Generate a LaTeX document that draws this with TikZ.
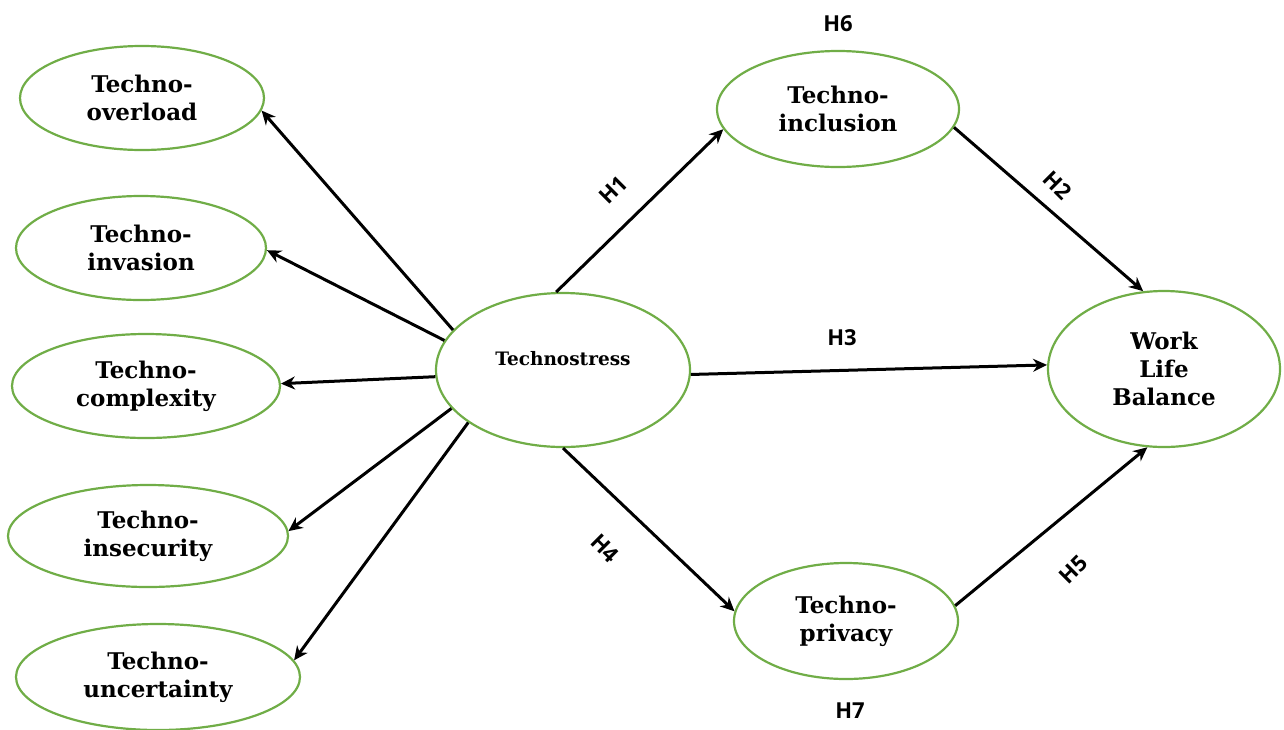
\documentclass[tikz,border=0pt]{standalone}
\usepackage{fontspec}
\setmainfont{DejaVu Serif}
\newfontfamily\hlab{Open Sans}
\usetikzlibrary{shapes.geometric,arrows.meta}
\definecolor{egreen}{RGB}{112,173,71}
\tikzset{
  ell/.style={ellipse, draw=egreen, line width=2.2pt, inner sep=0pt, align=center,
    font=\fontsize{23}{28}\selectfont\bfseries},
  conn/.style={line width=3pt, -{Stealth[length=14pt,width=13pt]}},
  hl/.style={font=\hlab\fontsize{22}{24}\selectfont\bfseries, inner sep=0pt}
}
\begin{document}
\begin{tikzpicture}[x=1pt,y=-1pt]
\useasboundingbox (0,0) rectangle (1284,729);
\node[ell, minimum width=244pt, minimum height=104pt] (ov) at (142,98) {Techno-\\overload};
\node[ell, minimum width=250pt, minimum height=104pt] (inv) at (141,248) {Techno-\\invasion};
\node[ell, minimum width=268pt, minimum height=104pt] (cx) at (146,386) {Techno-\\complexity};
\node[ell, minimum width=280pt, minimum height=102pt] (ins) at (148,536) {Techno-\\insecurity};
\node[ell, minimum width=284pt, minimum height=106pt] (unc) at (158,677) {Techno-\\uncertainty};
\node[ell, minimum width=254pt, minimum height=154pt, font=\fontsize{18.5}{22}\selectfont\bfseries] (ts) at (563,370) {Technostress\\[2pt]\mbox{}};
\node[ell, minimum width=242pt, minimum height=116pt] (inc) at (838,109) {Techno-\\inclusion};
\node[ell, minimum width=224pt, minimum height=116pt] (pr) at (846,621) {Techno-\\privacy};
\node[ell, minimum width=232pt, minimum height=156pt] (wlb) at (1164,369) {Work\\Life\\Balance};

\draw[conn] (ts.160) -- (ov.354);
\draw[conn] (ts.166) -- (inv.359);
\draw[conn] (ts.183) -- (cx.1);
\draw[conn] (ts.199) -- (ins.2);
\draw[conn] (ts.209) -- (unc.7);
\draw[conn] (ts.95) -- (inc.190);
\draw[conn] (inc.351) -- (wlb.105);
\draw[conn] (ts.358.5) -- (wlb.178);
\draw[conn] (ts.270.5) -- (pr.175);
\draw[conn] (pr.8) -- (wlb.258);

\node[hl, rotate=45] (h1) at (613,190) {H1};
\node[hl, rotate=-45] (h2) at (1058,185) {H2};
\node[hl] (h3) at (842,338) {H3};
\node[hl, rotate=-45] (h4) at (605,548) {H4};
\node[hl, rotate=45] (h5) at (1073,570) {H5};
\node[hl] (h6) at (838,24) {H6};
\node[hl] (h7) at (850,711) {H7};
\end{tikzpicture}
\end{document}
